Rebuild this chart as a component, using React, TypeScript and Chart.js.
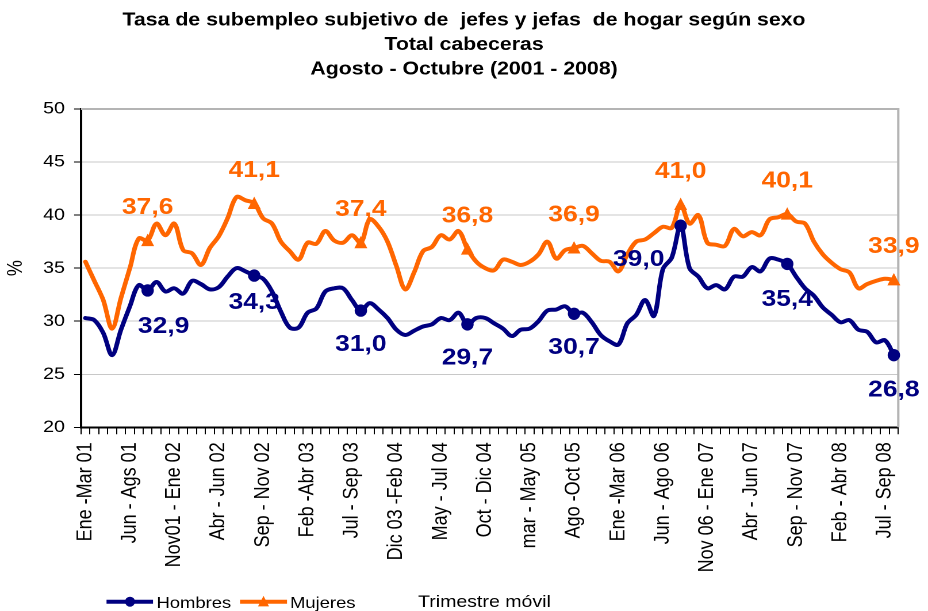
import React, { useEffect, useRef } from 'react';
import { Chart, registerables } from 'chart.js';

Chart.register(...registerables);

// ---------------- data ----------------
const titleLines = [
  'Tasa de subempleo subjetivo de  jefes y jefas  de hogar según sexo',
  'Total cabeceras',
  'Agosto - Octubre (2001 - 2008)',
];

const monthNames = ['Ene', 'Feb', 'Mar', 'Abr', 'May', 'Jun', 'Jul', 'Ago', 'Sep', 'Oct', 'Nov', 'Dic'];
// rolling quarters Ene-Mar 01 ... Ago-Oct 08 (92 periods)
const categories = Array.from({ length: 92 }, (_, i) =>
  `${monthNames[i % 12]} - ${monthNames[(i + 2) % 12]} ${String(1 + Math.floor((i + 2) / 12)).padStart(2, '0')}`
);

const tickLabels = [
  'Ene -Mar 01', 'Jun - Ags 01', 'Nov01 - Ene 02', 'Abr - Jun 02', 'Sep - Nov 02',
  'Feb -Abr 03', 'Jul - Sep 03', 'Dic 03 -Feb 04', 'May - Jul 04', 'Oct - Dic 04',
  'mar - May 05', 'Ago -Oct 05', 'Ene -Mar 06', 'Jun - Ago 06', 'Nov 06 - Ene 07',
  'Abr - Jun 07', 'Sep - Nov 07', 'Feb - Abr 08', 'Jul - Sep 08',
];

const hombres = [
  30.3, 30.1, 28.9, 26.8, 29.2, 31.4, 33.4, 32.9, 33.7, 32.8,
  33.1, 32.6, 33.8, 33.5, 33.0, 33.2, 34.2, 35.0, 34.7, 34.3,
  34.0, 32.8, 30.9, 29.4, 29.4, 30.8, 31.2, 32.8, 33.1, 33.1,
  32.0, 31.0, 31.7, 31.1, 30.3, 29.2, 28.7, 29.1, 29.5, 29.7,
  30.3, 30.1, 30.8, 29.7, 30.3, 30.3, 29.8, 29.3, 28.6, 29.2,
  29.3, 30.0, 31.0, 31.1, 31.4, 30.7, 30.8, 29.9, 28.7, 28.1,
  27.8, 29.8, 30.6, 32.0, 30.5, 34.9, 36.0, 39.0, 35.0, 34.2,
  33.1, 33.4, 33.0, 34.2, 34.2, 35.1, 34.7, 35.9, 35.8, 35.4,
  34.2, 33.1, 32.4, 31.3, 30.6, 29.9, 30.1, 29.2, 29.0, 28.0,
  28.2, 26.8,
];

const mujeres = [
  35.6, 33.8, 32.0, 29.3, 32.2, 35.0, 37.8, 37.6, 39.2, 38.1,
  39.2, 36.7, 36.4, 35.3, 36.9, 38.0, 39.7, 41.7, 41.4, 41.1,
  39.7, 39.2, 37.5, 36.6, 35.8, 37.4, 37.3, 38.5, 37.6, 37.4,
  38.1, 37.4, 39.6, 38.9, 37.5, 35.2, 33.0, 34.6, 36.6, 37.0,
  38.1, 37.7, 38.5, 36.8, 35.6, 35.0, 34.8, 35.8, 35.6, 35.3,
  35.6, 36.3, 37.5, 35.9, 36.7, 36.9, 37.1, 36.4, 35.7, 35.6,
  34.7, 36.3, 37.5, 37.7, 38.3, 38.9, 38.8, 41.0, 39.2, 40.0,
  37.4, 37.2, 37.1, 38.7, 38.0, 38.4, 38.1, 39.6, 39.8, 40.1,
  39.4, 39.2, 37.5, 36.3, 35.5, 34.9, 34.6, 33.1, 33.5, 33.8,
  34.0, 33.9,
];

// Ago-Oct of each year (labelled points)
const markerIndices = [7, 19, 31, 43, 55, 67, 79, 91];

// ---------------- layout / style ----------------
const OUT_W = 928;
const OUT_H = 611;
const W = 807; // logical width, canvas stretched horizontally to 928
const S = OUT_W / W;
const FONT = 'Liberation Sans, Arial, Helvetica, sans-serif';
const NAVY = '#000080';
const ORANGE = '#FF6600';

const hombresLabelDx = [16, 0, 0, 0, 0, -42, 0, 0];
const hombresLabelDy = [36, 27, 34, 34, 34, 34, 36, 35];
const mujeresLabelDy = -33;

function drawCircle(ctx: CanvasRenderingContext2D, x: number, y: number, r: number, color: string) {
  ctx.save();
  ctx.translate(x, y);
  ctx.scale(1 / S, 1);
  ctx.beginPath();
  ctx.arc(0, 0, r, 0, Math.PI * 2);
  ctx.fillStyle = color;
  ctx.fill();
  ctx.restore();
}

function drawTriangle(ctx: CanvasRenderingContext2D, x: number, y: number, r: number, color: string) {
  ctx.save();
  ctx.translate(x, y);
  ctx.scale(1 / S, 1);
  ctx.beginPath();
  ctx.moveTo(0, -r * 1.05);
  ctx.lineTo(r, r * 0.85);
  ctx.lineTo(-r, r * 0.85);
  ctx.closePath();
  ctx.fillStyle = color;
  ctx.fill();
  ctx.restore();
}

const fmt = (v: number) => v.toFixed(1).replace('.', ',');

const overlayPlugin = {
  id: 'overlay',
  beforeDatasetsDraw(chart: any) {
    const { ctx, chartArea: a } = chart;
    ctx.save();
    ctx.strokeStyle = '#b4b4b4';
    ctx.lineWidth = 2;
    ctx.beginPath();
    ctx.moveTo(a.left, a.top);
    ctx.lineTo(a.right, a.top);
    ctx.lineTo(a.right, a.bottom);
    ctx.stroke();
    ctx.restore();
  },
  afterDatasetsDraw(chart: any) {
    const ctx: CanvasRenderingContext2D = chart.ctx;
    const mH = chart.getDatasetMeta(0);
    const mM = chart.getDatasetMeta(1);
    ctx.save();
    ctx.font = `bold 23px ${FONT}`;
    ctx.textAlign = 'center';
    ctx.textBaseline = 'middle';
    markerIndices.forEach((idx, k) => {
      const pm = mM.data[idx];
      drawTriangle(ctx, pm.x, pm.y, 6.5, ORANGE);
      ctx.fillStyle = ORANGE;
      ctx.fillText(fmt(mujeres[idx]), pm.x, pm.y + mujeresLabelDy);
      const ph = mH.data[idx];
      drawCircle(ctx, ph.x, ph.y, 6.2, NAVY);
      ctx.fillStyle = NAVY;
      ctx.fillText(fmt(hombres[idx]), ph.x + hombresLabelDx[k] / S, ph.y + hombresLabelDy[k]);
    });
    ctx.restore();
  },
  afterDraw(chart: any) {
    const ctx: CanvasRenderingContext2D = chart.ctx;
    const cx = chart.width / 2;
    ctx.save();
    // title
    ctx.fillStyle = '#000';
    ctx.textAlign = 'center';
    ctx.textBaseline = 'middle';
    ctx.font = `bold 18.5px ${FONT}`;
    const ys = [20.5, 45, 69.5];
    titleLines.forEach((t, i) => ctx.fillText(t, cx, ys[i]));
    // legend
    const ly = 601.7;
    ctx.lineWidth = 4;
    ctx.strokeStyle = NAVY;
    ctx.beginPath();
    ctx.moveTo(106.5 / S, ly);
    ctx.lineTo(153 / S, ly);
    ctx.stroke();
    drawCircle(ctx, 130 / S, ly, 5, NAVY);
    ctx.strokeStyle = ORANGE;
    ctx.beginPath();
    ctx.moveTo(240 / S, ly);
    ctx.lineTo(287 / S, ly);
    ctx.stroke();
    drawTriangle(ctx, 263.5 / S, ly, 5.5, ORANGE);
    ctx.fillStyle = '#000';
    ctx.textAlign = 'left';
    ctx.font = `16px ${FONT}`;
    ctx.fillText('Hombres', 156.5 / S, 603.5);
    ctx.fillText('Mujeres', 290 / S, 603.5);
    ctx.font = `17px ${FONT}`;
    ctx.fillText('Trimestre móvil', 418 / S, 602.5);
    ctx.restore();
  },
};

export default function App() {
  const ref = useRef<HTMLCanvasElement>(null);
  useEffect(() => {
    if (!ref.current) return;
    Chart.defaults.font.family = FONT;
    const chart = new Chart(ref.current, {
      type: 'line',
      data: {
        labels: categories,
        datasets: [
          {
            label: 'Hombres',
            data: hombres,
            borderColor: NAVY,
            backgroundColor: NAVY,
            borderWidth: 4,
            tension: 0.35,
            pointRadius: 0,
            pointHoverRadius: 0,
            borderJoinStyle: 'round',
            borderCapStyle: 'round',
            fill: false,
          },
          {
            label: 'Mujeres',
            data: mujeres,
            borderColor: ORANGE,
            backgroundColor: ORANGE,
            borderWidth: 4,
            tension: 0.35,
            pointRadius: 0,
            pointHoverRadius: 0,
            borderJoinStyle: 'round',
            borderCapStyle: 'round',
            fill: false,
          },
        ],
      },
      options: {
        responsive: false,
        devicePixelRatio: 2,
        animation: false,
        events: [],
        layout: { padding: { left: 0, right: W - 906 / S, top: 109, bottom: 0 } },
        plugins: {
          legend: { display: false },
          title: { display: false },
          tooltip: { enabled: false },
        },
        scales: {
          x: {
            type: 'category',
            offset: true,
            afterFit: (scale: any) => {
              scale.height = OUT_H - 427.3;
            },
            grid: {
              drawOnChartArea: false,
              drawTicks: true,
              tickLength: 7,
              tickColor: '#000',
              offset: true,
            },
            border: { color: '#000', width: 2 },
            ticks: {
              autoSkip: false,
              minRotation: 90,
              maxRotation: 90,
              padding: 8,
              color: '#000',
              font: { size: 18, family: FONT },
              callback: (_v: any, i: number) => (i % 5 === 0 ? tickLabels[i / 5] : ''),
            },
          },
          y: {
            min: 20,
            max: 50,
            afterFit: (scale: any) => {
              scale.width = 81 / S;
            },
            grid: {
              color: '#c8c8c8',
              lineWidth: 1,
              tickColor: '#000',
              tickLength: 6,
            },
            border: { color: '#000', width: 2 },
            ticks: {
              stepSize: 5,
              padding: 8,
              color: '#000',
              font: { size: 17, family: FONT },
            },
            title: {
              display: true,
              text: '%',
              color: '#000',
              font: { size: 18, family: FONT },
              padding: { top: 3, bottom: 0 },
            },
          },
        },
      },
      plugins: [overlayPlugin],
    } as any);
    return () => chart.destroy();
  }, []);

  return (
    <div style={{ position: 'absolute', left: 0, top: 0, width: OUT_W, height: OUT_H, background: '#fff', overflow: 'hidden' }}>
      <canvas ref={ref} width={W} height={OUT_H} style={{ width: `${OUT_W}px`, height: `${OUT_H}px`, display: 'block' }} />
    </div>
  );
}
